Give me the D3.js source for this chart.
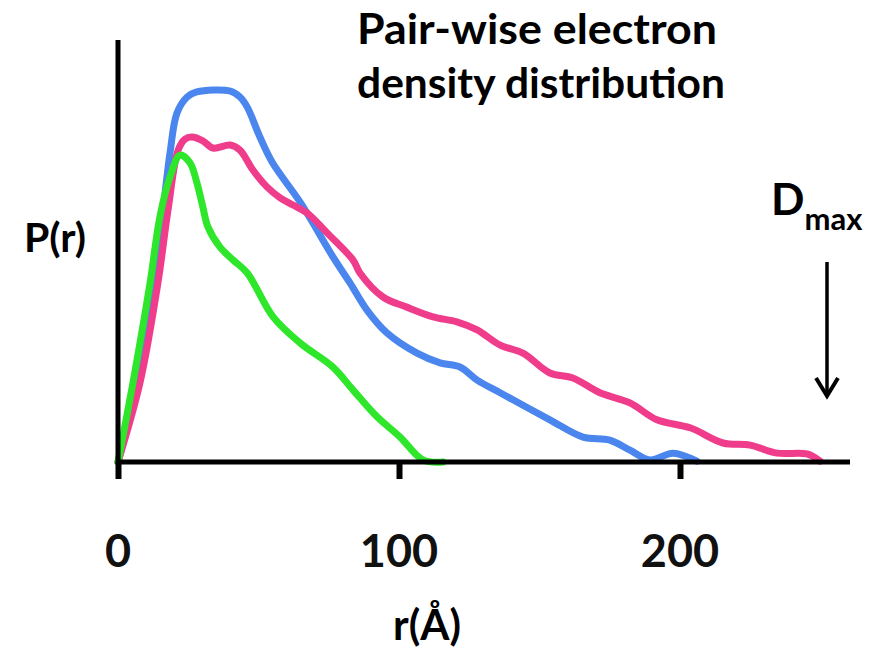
<!DOCTYPE html>
<html><head><meta charset="utf-8">
<script src="https://cdn.jsdelivr.net/npm/d3@7"></script>
<style>body{margin:0;background:#fff}</style></head>
<body>
<svg id="c" width="894" height="656"></svg>
<script>
// r (Å) and P(r) (arbitrary units, 0-100)
const blueR  = [0,7,13,18.5,21,24.6,28,40,43.4,46,50.5,55,65,76.5,82.6,88.6,95.7,106.4,114.6,121.7,127.8,136,153.7,165.5,175,182.2,189.3,197.5,206];
const blueP  = [0,18.7,42.4,73.2,82.7,86.5,87.7,87.9,86.5,84.1,77,70.9,61.4,48.6,42.4,36,30.6,25.8,23.5,22.5,19.4,16.4,10,5.9,5.2,2.8,0.5,2.1,0.2];
const pinkR  = [0,7.8,14.2,17.8,21.4,23.8,26.3,30.2,33.8,39.9,43.4,48,53,57.7,62.3,67.3,74.4,83.6,86.1,94.3,102.8,112.1,120.6,127.8,136,144.1,153.7,161.9,171.5,182.2,191.8,203.6,215.3,224.9,234.5,245.2,249.8];
const pinkP  = [0,18.7,42.4,59.7,73.9,76.5,77,76.1,74.4,75.1,73.9,69.2,65.2,62.6,60.9,59,54.3,47.9,44.8,39.1,36.7,34.4,33.2,31.3,27.7,25.8,21.1,19.9,16.4,14,10,8.1,4.5,4,2.1,1.9,0.2];
const greenR = [0,5.3,11.4,14.9,18.5,22.1,25.6,28.1,30.2,32,36.3,40.9,46,55.2,64.8,76.5,83.6,92.2,100.4,108.5,115.7];
const greenP = [0,18.7,42.4,58.1,67.5,72.7,70.9,66.1,60.4,55.7,50.9,47.9,44.8,34.4,28.2,22.5,17.1,10.7,5.9,0.5,0];
const xTicks = [0,100,200];
const title = ["Pair-wise electron","density distribution"];

const svg = d3.select("#c");
const x = d3.scaleLinear().domain([0,100]).range([118,399]);
const y = d3.scaleLinear().domain([0,100]).range([462,40]);
const FONT = "Lato, 'Open Sans', sans-serif";

const line = d3.line().x(d=>x(d[0])).y(d=>y(d[1])).curve(d3.curveCatmullRom.alpha(0.5));
const series = [
  {r:blueR,p:blueP,c:"#4a86ee"},
  {r:pinkR,p:pinkP,c:"#ef3d8c"},
  {r:greenR,p:greenP,c:"#2ee62a"}
];
series.forEach(s=>{
  svg.append("path").datum(s.r.map((v,i)=>[v,s.p[i]]))
    .attr("d",line).attr("fill","none").attr("stroke",s.c)
    .attr("stroke-width",7).attr("stroke-linejoin","round").attr("stroke-linecap","round");
});

// axes
const xa = svg.append("g").attr("transform",`translate(0,${y(0)})`)
  .call(d3.axisBottom(x).tickValues(xTicks).tickSize(17).tickFormat(""));
xa.select(".domain").attr("d",`M${x(0)},0H850`).attr("stroke","#000").attr("stroke-width",5);
xa.selectAll(".tick line").attr("stroke","#000").attr("stroke-width",6);
const ya = svg.append("g").attr("transform",`translate(${x(0)},0)`)
  .call(d3.axisLeft(y).tickValues([]).tickSizeOuter(0));
ya.select(".domain").attr("d",`M0,${y(0)+2}V${y(100)}`).attr("stroke","#000").attr("stroke-width",5);

// tick labels
svg.selectAll(".tl").data(xTicks).join("text")
  .attr("x",d=>x(d)).attr("y",567).attr("text-anchor","middle")
  .attr("font-family",FONT).attr("font-weight",700).attr("font-size",45)
  .attr("fill","#111").text(d=>d);

svg.append("text").attr("x",427).attr("y",640).attr("text-anchor","middle")
  .attr("font-family",FONT).attr("font-weight",700).attr("font-size",42).text("r(Å)");
svg.append("text").attr("x",55).attr("y",252).attr("text-anchor","middle")
  .attr("font-family",FONT).attr("font-weight",700).attr("font-size",41).text("P(r)");

title.forEach((t,i)=>{
  svg.append("text").attr("x",357).attr("y",44+i*54)
    .attr("font-family",FONT).attr("font-weight",700).attr("font-size",42)
    .attr("textLength",i?368:360).attr("lengthAdjust","spacingAndGlyphs").text(t);
});

const dm = svg.append("text").attr("x",771).attr("y",215)
  .attr("font-family",FONT).attr("font-weight",700).attr("font-size",44);
dm.append("tspan").text("D");
dm.append("tspan").attr("font-size",31).attr("dy",15).text("max");

// arrow
svg.append("line").attr("x1",827).attr("x2",827).attr("y1",262).attr("y2",396)
  .attr("stroke","#000").attr("stroke-width",3.5);
svg.append("path").attr("d","M816,378L827,396L838,378").attr("fill","none")
  .attr("stroke","#000").attr("stroke-width",4).attr("stroke-linejoin","miter");
</script>
</body></html>
